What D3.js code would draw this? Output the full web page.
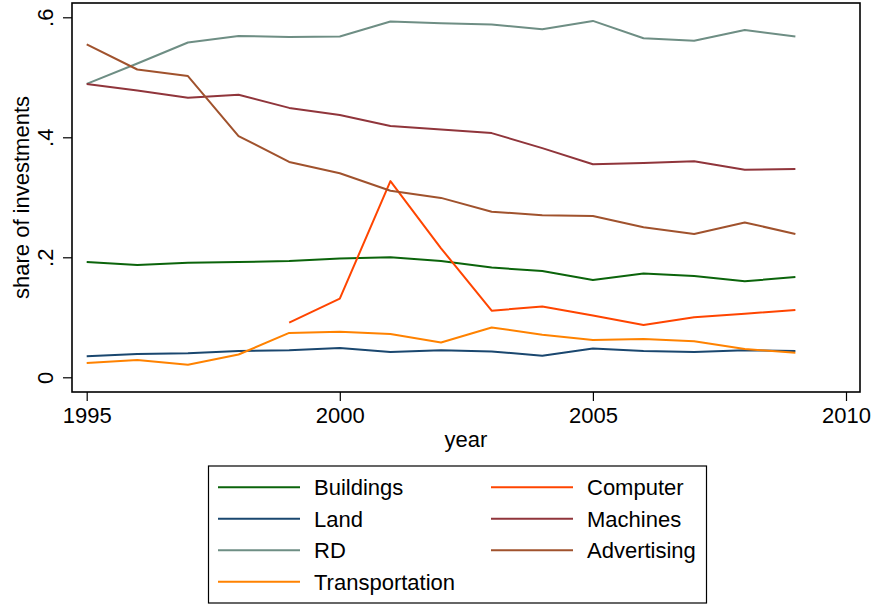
<!DOCTYPE html>
<html>
<head>
<meta charset="utf-8">
<script src="https://cdn.jsdelivr.net/npm/d3@7"></script>
<style>
  body { margin: 0; background: #fff; }
  text { font-family: "Liberation Sans", Arial, sans-serif; fill: #000; }
</style>
</head>
<body>
<div id="chart"></div>
<script>
var years = [1995,1996,1997,1998,1999,2000,2001,2002,2003,2004,2005,2006,2007,2008,2009];

var buildings = [0.192,0.187,0.191,0.192,0.194,0.198,0.200,0.194,0.183,0.177,0.162,0.173,0.169,0.160,0.167];
var land = [0.035,0.039,0.040,0.044,0.045,0.049,0.042,0.045,0.043,0.036,0.048,0.044,0.042,0.045,0.044];
var rd = [0.489,0.523,0.558,0.569,0.567,0.568,0.593,0.590,0.588,0.580,0.594,0.565,0.561,0.579,0.568];
var transportation = [0.024,0.029,0.021,0.038,0.074,0.076,0.072,0.058,0.083,0.071,0.062,0.064,0.060,0.047,0.041];
var computer = [null,null,null,null,0.091,0.131,0.327,0.215,0.111,0.118,0.103,0.087,0.100,0.106,0.112];
var machines = [0.489,0.478,0.466,0.471,0.449,0.437,0.419,0.413,0.407,0.382,0.355,0.357,0.360,0.346,0.347];
var advertising = [0.555,0.513,0.502,0.402,0.359,0.340,0.311,0.299,0.276,0.270,0.269,0.250,0.239,0.258,0.239];

var xTicks = [1995,2000,2005,2010];
var yTicks = [0,0.2,0.4,0.6];

var series = [
  {name:"Buildings", values:buildings, color:"#0b640b"},
  {name:"Land", values:land, color:"#1a476f"},
  {name:"RD", values:rd, color:"#6e8e84"},
  {name:"Transportation", values:transportation, color:"#ff8200"},
  {name:"Computer", values:computer, color:"#ff4500"},
  {name:"Machines", values:machines, color:"#90353b"},
  {name:"Advertising", values:advertising, color:"#a0522d"}
];
var legendOrder = ["Buildings","Computer","Land","Machines","RD","Advertising","Transportation"];

var width = 874, height = 604,
    frameL = 72, frameR = 860, frameT = 3, frameB = 392,
    fontSize = 22;

var svg = d3.select("#chart").append("svg")
  .attr("width", width)
  .attr("height", height);

var x = d3.scaleLinear().domain([1995, 2010]).range([86.7, 846]);
var y = d3.scaleLinear().domain([0, 0.6]).range([377.3, 17.3]);

// plot frame
svg.append("rect")
  .attr("x", frameL).attr("y", frameT)
  .attr("width", frameR - frameL).attr("height", frameB - frameT)
  .attr("fill", "none").attr("stroke", "#000").attr("stroke-width", 1.6);

// axes
var yAxis = svg.append("g")
  .attr("transform", "translate(" + frameL + ",0)")
  .call(d3.axisLeft(y).tickValues(yTicks).tickSize(9).tickPadding(0)
    .tickFormat(function (d) { return d === 0 ? "0" : d3.format(".1f")(d).replace(/^0/, ""); }));
yAxis.select(".domain").remove();
yAxis.selectAll("line").attr("stroke", "#000").attr("stroke-width", 1.2);
yAxis.selectAll("text")
  .attr("font-size", fontSize)
  .attr("font-family", "Liberation Sans, Arial, sans-serif")
  .attr("x", null).attr("dy", null)
  .attr("text-anchor", "middle")
  .attr("transform", "translate(-19.5,0) rotate(-90)");

var xAxis = svg.append("g")
  .attr("transform", "translate(0," + frameB + ")")
  .call(d3.axisBottom(x).tickValues(xTicks).tickSize(9).tickPadding(0).tickFormat(d3.format("d")));
xAxis.select(".domain").remove();
xAxis.selectAll("line").attr("stroke", "#000").attr("stroke-width", 1.2);
xAxis.selectAll("text")
  .attr("font-size", fontSize)
  .attr("font-family", "Liberation Sans, Arial, sans-serif")
  .attr("y", 30.7).attr("dy", null);

// axis titles
svg.append("text")
  .attr("x", (frameL + frameR) / 2).attr("y", 447)
  .attr("text-anchor", "middle")
  .attr("font-size", fontSize)
  .text("year");

svg.append("text")
  .attr("transform", "translate(28.5," + ((frameT + frameB) / 2) + ") rotate(-90)")
  .attr("text-anchor", "middle")
  .attr("font-size", fontSize)
  .text("share of investments");

// lines
var line = d3.line()
  .defined(function (d) { return d != null; })
  .x(function (d, i) { return x(years[i]); })
  .y(function (d) { return y(d); });

svg.selectAll("path.series")
  .data(series).enter().append("path")
  .attr("class", "series")
  .attr("fill", "none")
  .attr("stroke", function (d) { return d.color; })
  .attr("stroke-width", 2)
  .attr("stroke-linejoin", "round")
  .attr("d", function (d) { return line(d.values); });

// legend
var legend = svg.append("g");
legend.append("rect")
  .attr("x", 208.5).attr("y", 466)
  .attr("width", 498).attr("height", 137)
  .attr("fill", "#fff").attr("stroke", "#000").attr("stroke-width", 1.2);

var colX = [218, 491], rowY = 487.3, rowStep = 31.5;
var items = legendOrder.map(function (n, i) {
  var s = series.filter(function (e) { return e.name === n; })[0];
  return {name: n, color: s.color, col: i % 2, row: Math.floor(i / 2)};
});

var li = legend.selectAll("g.item").data(items).enter().append("g")
  .attr("class", "item")
  .attr("transform", function (d) { return "translate(" + colX[d.col] + "," + (rowY + d.row * rowStep) + ")"; });
li.append("line")
  .attr("x1", 0).attr("x2", 82).attr("y1", 0).attr("y2", 0)
  .attr("stroke", function (d) { return d.color; })
  .attr("stroke-width", 2);
li.append("text")
  .attr("x", 96).attr("y", 8)
  .attr("font-size", fontSize)
  .text(function (d) { return d.name; });
</script>
</body>
</html>
